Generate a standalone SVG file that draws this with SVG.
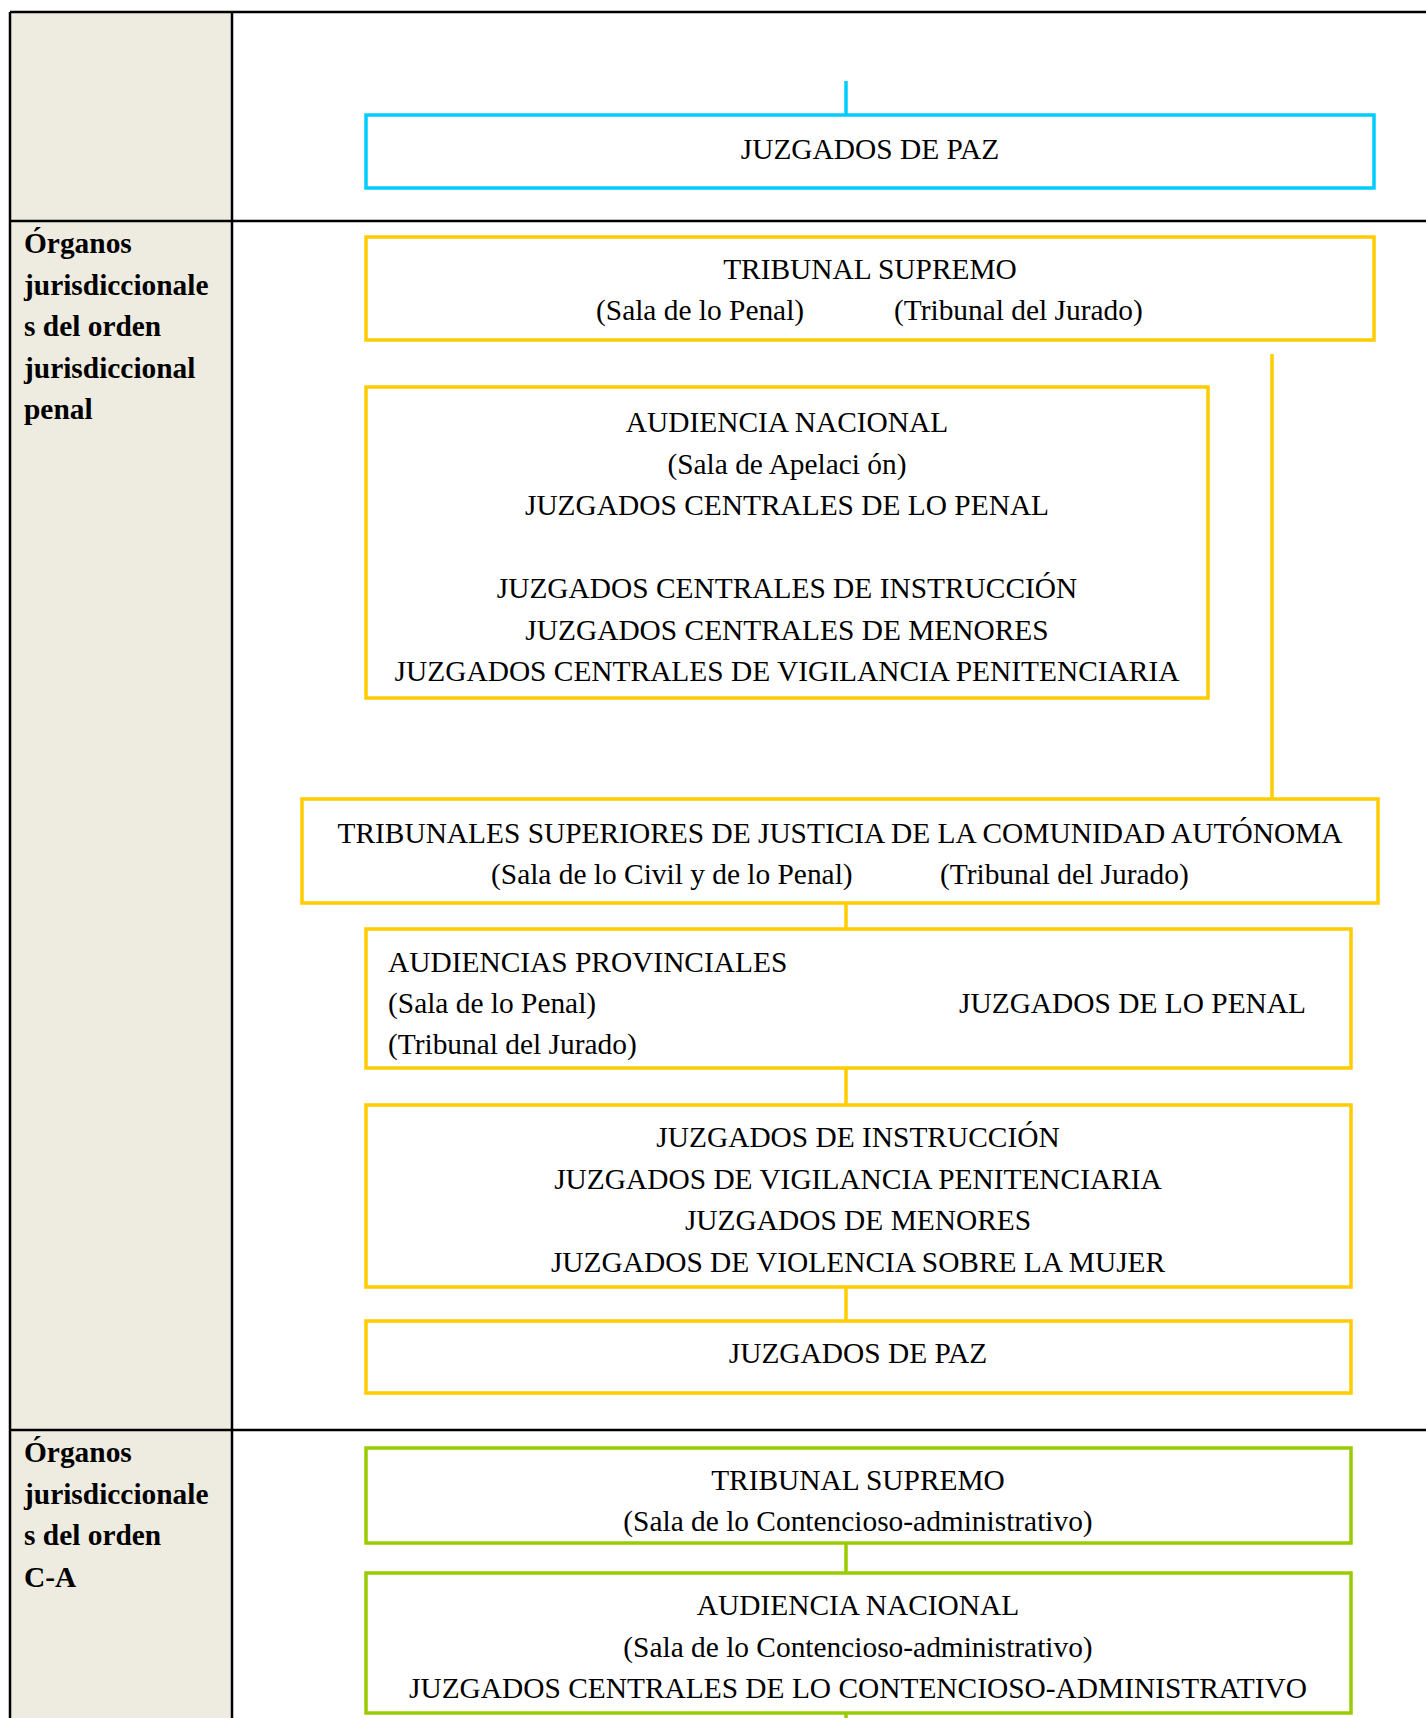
<svg xmlns="http://www.w3.org/2000/svg" width="1426" height="1718" viewBox="0 0 1426 1718">
<style>
.t{font-family:"Liberation Serif","Times New Roman",serif;font-size:29.4px;fill:#000}
.m{text-anchor:middle}
.e{text-anchor:end}
.b{font-family:"Liberation Serif","Times New Roman",serif;font-size:29.4px;font-weight:bold;fill:#000}
.grid{stroke:#000;stroke-width:2.5;fill:none}
.cy{fill:#fff;stroke:#00CCFF;stroke-width:3.5}
.ye{fill:#fff;stroke:#FFCC00;stroke-width:3.5}
.gr{fill:#fff;stroke:#99CC00;stroke-width:3.5}
.lc{stroke:#00CCFF;stroke-width:3.5;fill:none}
.ly{stroke:#FFCC00;stroke-width:3.5;fill:none}
.lg{stroke:#99CC00;stroke-width:3.5;fill:none}
</style>
<rect x="0" y="0" width="1426" height="1718" fill="#fff"/>
<g id="table">
<rect x="10" y="12" width="222" height="1706" fill="#EEECE1"/>
<path class="grid" d="M10,12 H1426 M10,12 V1718 M232,12 V1718 M10,221 H1426 M10,1430 H1426"/>
</g>
<g id="labels">
<text class="b" x="24" y="253">Órganos</text>
<text class="b" x="24" y="294.5">jurisdiccionale</text>
<text class="b" x="24" y="336">s del orden</text>
<text class="b" x="24" y="377.5">jurisdiccional</text>
<text class="b" x="24" y="419">penal</text>
<text class="b" x="24" y="1462">Órganos</text>
<text class="b" x="24" y="1503.5">jurisdiccionale</text>
<text class="b" x="24" y="1545">s del orden</text>
<text class="b" x="24" y="1586.5">C-A</text>
</g>
<g id="connectors">
<line class="lc" x1="846" y1="81" x2="846" y2="115"/>
<line class="ly" x1="1272" y1="354" x2="1272" y2="799"/>
<line class="ly" x1="846" y1="903" x2="846" y2="929"/>
<line class="ly" x1="846" y1="1068" x2="846" y2="1105"/>
<line class="ly" x1="846" y1="1287" x2="846" y2="1321"/>
<line class="lg" x1="846" y1="1543" x2="846" y2="1573"/>
<line class="lg" x1="846" y1="1713" x2="846" y2="1718"/>
</g>
<g id="juzgados-paz-top">
<rect class="cy" x="366" y="115" width="1008" height="73"/>
<text class="t m" x="870" y="159">JUZGADOS DE PAZ</text>
</g>
<g id="tribunal-supremo-penal">
<rect class="ye" x="366" y="237" width="1008" height="103"/>
<text class="t m" x="870" y="279">TRIBUNAL SUPREMO</text>
<text class="t" x="596" y="320">(Sala de lo Penal)</text>
<text class="t" x="894" y="320">(Tribunal del Jurado)</text>
</g>
<g id="audiencia-nacional-penal">
<rect class="ye" x="366" y="387" width="842" height="311"/>
<text class="t m" x="787" y="432">AUDIENCIA NACIONAL</text>
<text class="t m" x="787" y="473.5">(Sala de Apelaci ón)</text>
<text class="t m" x="787" y="515">JUZGADOS CENTRALES DE LO PENAL</text>
<text class="t m" x="787" y="598">JUZGADOS CENTRALES DE INSTRUCCIÓN</text>
<text class="t m" x="787" y="639.5">JUZGADOS CENTRALES DE MENORES</text>
<text class="t m" x="787" y="681">JUZGADOS CENTRALES DE VIGILANCIA PENITENCIARIA</text>
</g>
<g id="tsj">
<rect class="ye" x="302" y="799" width="1076" height="104"/>
<text class="t m" x="840" y="843">TRIBUNALES SUPERIORES DE JUSTICIA DE LA COMUNIDAD AUTÓNOMA</text>
<text class="t" x="491" y="884">(Sala de lo Civil y de lo Penal)</text>
<text class="t" x="940" y="884">(Tribunal del Jurado)</text>
</g>
<g id="audiencias-provinciales">
<rect class="ye" x="366" y="929" width="985" height="139"/>
<text class="t" x="388" y="972">AUDIENCIAS PROVINCIALES</text>
<text class="t" x="388" y="1013">(Sala de lo Penal)</text>
<text class="t" x="388" y="1054">(Tribunal del Jurado)</text>
<text class="t e" x="1306" y="1013">JUZGADOS DE LO PENAL</text>
</g>
<g id="juzgados-instruccion">
<rect class="ye" x="366" y="1105" width="985" height="182"/>
<text class="t m" x="858" y="1147">JUZGADOS DE INSTRUCCIÓN</text>
<text class="t m" x="858" y="1188.5">JUZGADOS DE VIGILANCIA PENITENCIARIA</text>
<text class="t m" x="858" y="1230">JUZGADOS DE MENORES</text>
<text class="t m" x="858" y="1271.5">JUZGADOS DE VIOLENCIA SOBRE LA MUJER</text>
</g>
<g id="juzgados-paz-penal">
<rect class="ye" x="366" y="1321" width="985" height="72"/>
<text class="t m" x="858" y="1363">JUZGADOS DE PAZ</text>
</g>
<g id="tribunal-supremo-ca">
<rect class="gr" x="366" y="1448" width="985" height="95"/>
<text class="t m" x="858" y="1490">TRIBUNAL SUPREMO</text>
<text class="t m" x="858" y="1531">(Sala de lo Contencioso-administrativo)</text>
</g>
<g id="audiencia-nacional-ca">
<rect class="gr" x="366" y="1573" width="985" height="140"/>
<text class="t m" x="858" y="1615">AUDIENCIA NACIONAL</text>
<text class="t m" x="858" y="1656.5">(Sala de lo Contencioso-administrativo)</text>
<text class="t m" x="858" y="1698">JUZGADOS CENTRALES DE LO CONTENCIOSO-ADMINISTRATIVO</text>
</g>
</svg>
